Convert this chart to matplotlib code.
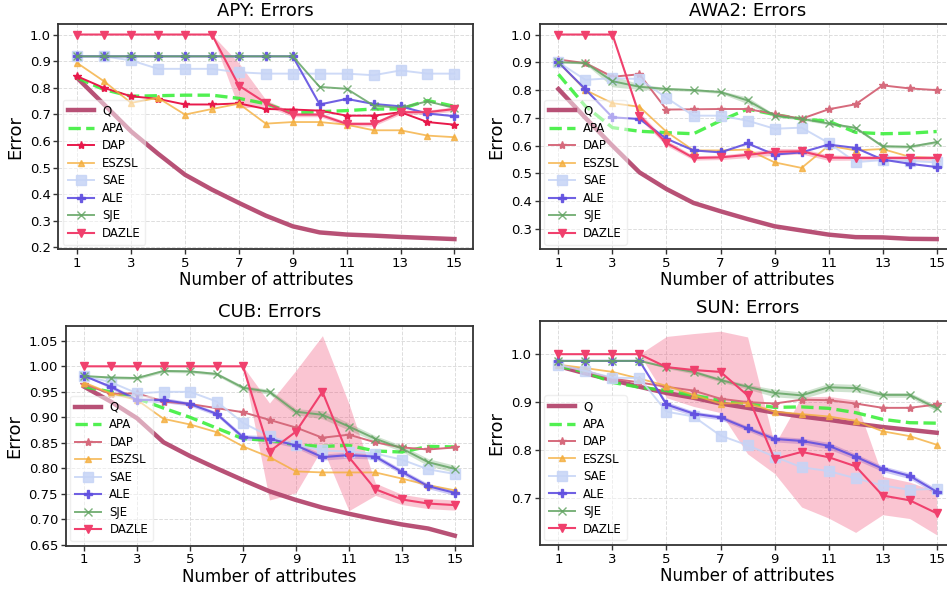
import matplotlib
matplotlib.use("Agg")
import matplotlib.pyplot as plt
import numpy as np

x_vals = list(range(1, 16))
x_ticks = [1, 3, 5, 7, 9, 11, 13, 15]
methods = ["Q", "APA", "DAP", "ESZSL", "SAE", "ALE", "SJE", "DAZLE"]

# ---------------- APY ----------------
apy_Q = [0.837, 0.737, 0.636, 0.552, 0.473, 0.417, 0.367, 0.319, 0.279, 0.256, 0.248, 0.244, 0.239, 0.235, 0.231]
apy_APA = [0.837, 0.793, 0.768, 0.770, 0.772, 0.772, 0.760, 0.740, 0.705, 0.710, 0.714, 0.720, 0.720, 0.752, 0.730]
apy_DAP = [0.843, 0.799, 0.768, 0.758, 0.737, 0.737, 0.741, 0.720, 0.718, 0.714, 0.695, 0.695, 0.708, 0.671, 0.661]
apy_ESZSL = [0.893, 0.824, 0.743, 0.762, 0.699, 0.720, 0.740, 0.665, 0.671, 0.671, 0.661, 0.640, 0.640, 0.620, 0.614]
apy_SAE = [0.918, 0.918, 0.903, 0.871, 0.871, 0.871, 0.858, 0.853, 0.853, 0.853, 0.853, 0.847, 0.865, 0.853, 0.853]
apy_ALE = [0.918, 0.918, 0.918, 0.918, 0.918, 0.918, 0.918, 0.918, 0.918, 0.737, 0.758, 0.739, 0.730, 0.703, 0.693]
apy_SJE = [0.918, 0.918, 0.918, 0.918, 0.918, 0.918, 0.918, 0.918, 0.918, 0.803, 0.796, 0.733, 0.724, 0.749, 0.724]
apy_DAZLE = [1.0, 1.0, 1.0, 1.0, 1.0, 1.0, 0.808, 0.743, 0.699, 0.699, 0.664, 0.664, 0.708, 0.708, 0.720]
apy_DAZLE_std = [0, 0, 0, 0, 0, 0, 0.085, 0.012, 0.008, 0.008, 0.008, 0.008, 0.008, 0.008, 0.008]

# ---------------- AWA2 ----------------
awa_Q = [0.804, 0.700, 0.600, 0.504, 0.444, 0.394, 0.364, 0.336, 0.310, 0.295, 0.280, 0.271, 0.270, 0.265, 0.264]
awa_APA = [0.857, 0.742, 0.665, 0.652, 0.647, 0.643, 0.690, 0.732, 0.712, 0.696, 0.688, 0.648, 0.643, 0.645, 0.651]
awa_DAP = [0.910, 0.897, 0.848, 0.857, 0.730, 0.731, 0.732, 0.732, 0.714, 0.697, 0.731, 0.749, 0.817, 0.806, 0.800]
awa_ESZSL = [0.900, 0.800, 0.753, 0.740, 0.650, 0.583, 0.583, 0.586, 0.540, 0.520, 0.600, 0.583, 0.588, 0.560, 0.555]
awa_SAE = [0.900, 0.837, 0.843, 0.840, 0.772, 0.708, 0.708, 0.690, 0.661, 0.665, 0.610, 0.541, 0.548, 0.545, 0.540]
awa_ALE = [0.900, 0.803, 0.702, 0.696, 0.625, 0.583, 0.576, 0.608, 0.568, 0.576, 0.604, 0.592, 0.550, 0.535, 0.523]
awa_SJE = [0.900, 0.898, 0.832, 0.812, 0.804, 0.800, 0.793, 0.763, 0.708, 0.697, 0.680, 0.664, 0.598, 0.596, 0.613]
awa_SJE_std = [0, 0.005, 0.02, 0.01, 0.005, 0.005, 0.005, 0.012, 0.005, 0.005, 0.005, 0.005, 0.005, 0.005, 0.005]
awa_DAZLE = [1.0, 1.0, 1.0, 0.708, 0.610, 0.556, 0.558, 0.567, 0.578, 0.580, 0.557, 0.556, 0.556, 0.556, 0.556]
awa_DAZLE_std = [0, 0, 0, 0.012, 0.01, 0.008, 0.008, 0.01, 0.012, 0.01, 0.01, 0.008, 0.008, 0.008, 0.008]

# ---------------- CUB ----------------
cub_Q = [0.960, 0.931, 0.898, 0.851, 0.824, 0.800, 0.777, 0.755, 0.738, 0.723, 0.711, 0.700, 0.690, 0.682, 0.668]
cub_APA = [0.960, 0.950, 0.937, 0.918, 0.900, 0.879, 0.858, 0.855, 0.846, 0.843, 0.845, 0.834, 0.832, 0.843, 0.842]
cub_DAP = [0.965, 0.946, 0.947, 0.931, 0.926, 0.918, 0.910, 0.895, 0.880, 0.860, 0.866, 0.851, 0.841, 0.837, 0.841]
cub_ESZSL = [0.968, 0.947, 0.934, 0.897, 0.886, 0.871, 0.843, 0.822, 0.794, 0.792, 0.792, 0.792, 0.780, 0.767, 0.757]
cub_SAE = [0.981, 0.969, 0.947, 0.950, 0.950, 0.931, 0.889, 0.863, 0.846, 0.835, 0.833, 0.829, 0.817, 0.798, 0.789]
cub_ALE = [0.981, 0.960, 0.934, 0.934, 0.926, 0.907, 0.861, 0.858, 0.845, 0.822, 0.826, 0.823, 0.793, 0.765, 0.752]
cub_ALE_std = [0, 0.004, 0.004, 0.005, 0.004, 0.004, 0.005, 0.006, 0.005, 0.006, 0.006, 0.005, 0.005, 0.005, 0.005]
cub_SJE = [0.981, 0.978, 0.977, 0.991, 0.990, 0.985, 0.958, 0.950, 0.911, 0.905, 0.882, 0.858, 0.839, 0.812, 0.799]
cub_SJE_std = [0, 0.003, 0.003, 0.003, 0.003, 0.003, 0.004, 0.005, 0.006, 0.008, 0.007, 0.006, 0.006, 0.007, 0.007]
cub_DAZLE = [1.0, 1.0, 1.0, 1.0, 1.0, 1.0, 1.0, 0.833, 0.872, 0.950, 0.822, 0.759, 0.739, 0.731, 0.728]
cub_DAZLE_std = [0, 0, 0, 0, 0, 0, 0, 0.095, 0.12, 0.11, 0.105, 0.012, 0.01, 0.01, 0.01]

# ---------------- SUN ----------------
sun_Q = [0.975, 0.960, 0.946, 0.932, 0.919, 0.909, 0.897, 0.888, 0.878, 0.870, 0.863, 0.855, 0.848, 0.842, 0.836]
sun_APA = [0.975, 0.963, 0.941, 0.931, 0.924, 0.914, 0.904, 0.897, 0.889, 0.890, 0.887, 0.878, 0.864, 0.857, 0.856]
sun_DAP = [0.978, 0.965, 0.949, 0.941, 0.932, 0.924, 0.907, 0.900, 0.897, 0.905, 0.904, 0.897, 0.888, 0.888, 0.895]
sun_ESZSL = [0.978, 0.971, 0.963, 0.949, 0.934, 0.915, 0.897, 0.898, 0.880, 0.875, 0.870, 0.861, 0.839, 0.829, 0.811]
sun_SAE = [0.978, 0.965, 0.951, 0.950, 0.880, 0.870, 0.830, 0.810, 0.786, 0.764, 0.756, 0.741, 0.726, 0.717, 0.719]
sun_ALE = [0.986, 0.986, 0.986, 0.986, 0.895, 0.876, 0.868, 0.845, 0.823, 0.819, 0.809, 0.786, 0.761, 0.746, 0.713]
sun_ALE_std = [0, 0, 0, 0, 0.006, 0.005, 0.005, 0.005, 0.006, 0.006, 0.007, 0.006, 0.006, 0.006, 0.006]
sun_SJE = [0.986, 0.986, 0.986, 0.986, 0.973, 0.963, 0.946, 0.932, 0.919, 0.914, 0.931, 0.929, 0.915, 0.915, 0.887]
sun_SJE_std = [0, 0, 0, 0, 0.003, 0.004, 0.004, 0.005, 0.008, 0.007, 0.008, 0.008, 0.005, 0.005, 0.006]
sun_DAZLE = [1.0, 1.0, 1.0, 1.0, 0.973, 0.967, 0.963, 0.914, 0.781, 0.796, 0.785, 0.766, 0.705, 0.695, 0.668]
sun_DAZLE_std = [0, 0, 0, 0, 0.064, 0.076, 0.085, 0.122, 0.03, 0.115, 0.127, 0.138, 0.04, 0.038, 0.045]

datasets = [
    ("APY", [apy_Q, apy_APA, apy_DAP, apy_ESZSL, apy_SAE, apy_ALE, apy_SJE, apy_DAZLE],
     {"DAZLE": apy_DAZLE_std}, [0.2, 0.3, 0.4, 0.5, 0.6, 0.7, 0.8, 0.9, 1.0], "%.1f", "#e8194b"),
    ("AWA2", [awa_Q, awa_APA, awa_DAP, awa_ESZSL, awa_SAE, awa_ALE, awa_SJE, awa_DAZLE],
     {"SJE": awa_SJE_std, "DAZLE": awa_DAZLE_std}, [0.3, 0.4, 0.5, 0.6, 0.7, 0.8, 0.9, 1.0], "%.1f", "#d66a7c"),
    ("CUB", [cub_Q, cub_APA, cub_DAP, cub_ESZSL, cub_SAE, cub_ALE, cub_SJE, cub_DAZLE],
     {"ALE": cub_ALE_std, "SJE": cub_SJE_std, "DAZLE": cub_DAZLE_std},
     [0.65, 0.70, 0.75, 0.80, 0.85, 0.90, 0.95, 1.00, 1.05], "%.2f", "#d66a7c"),
    ("SUN", [sun_Q, sun_APA, sun_DAP, sun_ESZSL, sun_SAE, sun_ALE, sun_SJE, sun_DAZLE],
     {"ALE": sun_ALE_std, "SJE": sun_SJE_std, "DAZLE": sun_DAZLE_std}, [0.7, 0.8, 0.9, 1.0], "%.1f", "#d66a7c"),
]

W, H = 947, 589
# axes rectangles in pixels: left, top, right, bottom
rects = [(58.3, 24.3, 473.3, 249.3), (539.5, 24.3, 955.6, 249.3),
         (65.7, 325.7, 473.3, 545.7), (539.5, 321.0, 955.6, 545.0)]

styles = {
    "Q":     dict(color="#b4486f", lw=3.2, alpha=0.95),
    "APA":   dict(color="#33ee33", lw=2.4, ls="--", alpha=0.85),
    "DAP":   dict(marker="*", ms=6, lw=1.4),
    "ESZSL": dict(color="#f4ae3d", marker="^", ms=5, lw=1.3, alpha=0.8),
    "SAE":   dict(color="#c6d4f6", marker="s", ms=7.5, lw=1.4, alpha=0.85),
    "ALE":   dict(color="#6150e0", marker="P", ms=6, lw=1.5, alpha=0.9),
    "SJE":   dict(color="#64a564", marker="x", ms=5.5, lw=1.4, alpha=0.85),
    "DAZLE": dict(color="#f0406d", marker="v", ms=6, lw=1.5),
}

fig = plt.figure(figsize=(W / 100, H / 100), dpi=100)
for (name, series, stds, yticks, fmt, dapcol), (l, t, r, b) in zip(datasets, rects):
    ax = fig.add_axes([l / W, (H - b) / H, (r - l) / W, (b - t) / H])
    for m, vals in zip(methods, series):
        st = dict(styles[m])
        if m == "DAP":
            st["color"] = dapcol
        ax.plot(x_vals, vals, label=m, **st)
        if m in stds:
            v = np.array(vals)
            s = np.array(stds[m])
            ax.fill_between(x_vals, v - s, v + s, color=st["color"], alpha=0.3, lw=0)
    ax.set_title(name + ": Errors", fontsize=13)
    ax.set_xlabel("Number of attributes", fontsize=12, labelpad=1)
    ax.set_ylabel("Error", fontsize=13)
    ax.set_xticks(x_ticks)
    ax.set_yticks(yticks)
    ax.set_yticklabels([fmt % v for v in yticks])
    ax.tick_params(labelsize=9.5, length=3.5, width=1, color="#333333", pad=2)
    ax.grid(True, ls="--", lw=0.7, color="#dddddd")
    ax.set_axisbelow(True)
    for sp in ax.spines.values():
        sp.set_linewidth(1.3)
        sp.set_color("#333333")
    leg = ax.legend(loc="lower left", fontsize=8.5, labelspacing=0.38, handlelength=2.2,
                    handletextpad=0.7, framealpha=0.5, edgecolor="#e0e0e0", fancybox=True,
                    borderaxespad=0.4)

fig.savefig("out.png", dpi=100)
